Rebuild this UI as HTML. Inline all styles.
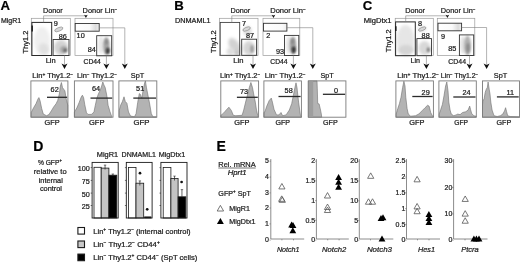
<!DOCTYPE html><html><head><meta charset="utf-8"><style>html,body{margin:0;padding:0;background:#fff;width:520px;height:262px;overflow:hidden}svg{display:block;will-change:transform}text{font-family:"Liberation Sans", sans-serif;stroke:#1a1a1a;stroke-width:0.22px;paint-order:stroke}</style></head><body>
<svg width="520" height="262" viewBox="0 0 520 262">
<defs>
<linearGradient id="gg" x1="0" x2="1" y1="0" y2="0"><stop offset="0" stop-color="#fff"/><stop offset="0.6" stop-color="#fafafa"/><stop offset="0.85" stop-color="#dcdcdc"/><stop offset="1" stop-color="#eee"/></linearGradient>
<linearGradient id="gg2" x1="0" x2="1" y1="0" y2="0"><stop offset="0" stop-color="#fff"/><stop offset="0.8" stop-color="#fafafa"/><stop offset="1" stop-color="#ececec"/></linearGradient>
<filter id="bl" x="-50%" y="-50%" width="200%" height="200%"><feGaussianBlur stdDeviation="1.6"/></filter>
<filter id="bl2" x="-50%" y="-50%" width="200%" height="200%"><feGaussianBlur stdDeviation="0.8"/></filter>
<filter id="bl1" x="-50%" y="-50%" width="200%" height="200%"><feGaussianBlur stdDeviation="1.1"/></filter>
</defs>
<rect width="520" height="262" fill="#fff"/>
<text x="0.6" y="10.4" font-size="13.2" text-anchor="start" font-weight="bold" font-style="normal" fill="#000" >A</text>
<text x="1.0" y="23.2" font-size="7" text-anchor="start" font-weight="normal" font-style="normal" fill="#1a1a1a" textLength="20.20" lengthAdjust="spacingAndGlyphs">MigR1</text>
<ellipse cx="42" cy="41" rx="8" ry="14" fill="#efefef" opacity="1" transform="rotate(0 42 41)" filter="url(#bl)"/>
<ellipse cx="44" cy="49" rx="5" ry="6" fill="#e0e0e0" opacity="1" transform="rotate(-30 44 49)" filter="url(#bl)"/>
<ellipse cx="61" cy="47.5" rx="7" ry="7.5" fill="#d2d2d2" opacity="1" transform="rotate(0 61 47.5)" filter="url(#bl)"/>
<ellipse cx="63.5" cy="49.5" rx="3.5" ry="3.5" fill="#a8a8a8" opacity="1" transform="rotate(0 63.5 49.5)" filter="url(#bl1)"/>
<ellipse cx="65.2" cy="50.3" rx="1.6" ry="1.8" fill="#555" opacity="1" transform="rotate(0 65.2 50.3)" filter="url(#bl2)"/>
<rect x="31.30" y="18.30" width="39.00" height="37.30" stroke="#9a9a9a" stroke-width="0.7" fill="none" />
<rect x="31.90" y="22.40" width="19.80" height="33.10" stroke="#2a2a2a" stroke-width="1.0" fill="none" />
<line x1="32.20" y1="25.50" x2="32.20" y2="31.50" stroke="#111" stroke-width="1.3"/>
<rect x="53.10" y="39.50" width="15.90" height="16.00" stroke="#333" stroke-width="0.9" fill="none" />
<ellipse cx="58.8" cy="29.4" rx="4.4" ry="1.8" transform="rotate(-22 58.8 29.4)" fill="#d8d8d8" stroke="#8a8a8a" stroke-width="0.6"/>
<text x="53.7" y="26.4" font-size="7.3" text-anchor="start" font-weight="normal" font-style="normal" fill="#1a1a1a" >9</text>
<text x="58.7" y="39.2" font-size="7.3" text-anchor="start" font-weight="normal" font-style="normal" fill="#1a1a1a" >86</text>
<text x="-11.4" y="0" font-size="7.3" fill="#1a1a1a" textLength="22.8" lengthAdjust="spacingAndGlyphs" transform="translate(27.9,42.1) rotate(-90)">Thy1.2</text>
<text x="45.7" y="63.4" font-size="7.2" text-anchor="start" font-weight="normal" font-style="normal" fill="#1a1a1a" textLength="10.00" lengthAdjust="spacingAndGlyphs">Lin</text>
<text x="43.0" y="13.4" font-size="7.2" text-anchor="start" font-weight="normal" font-style="normal" fill="#1a1a1a" textLength="19.70" lengthAdjust="spacingAndGlyphs">Donor</text>
<line x1="43.60" y1="15.80" x2="43.60" y2="22.40" stroke="#808080" stroke-width="0.6"/>
<line x1="43.60" y1="15.80" x2="85.90" y2="15.80" stroke="#808080" stroke-width="0.6"/>
<polygon points="84.10,14.80 85.90,15.60 87.70,14.80 85.90,18.00" fill="#111" stroke="none" stroke-width="0.8" />
<text x="82.6" y="13.4" font-size="7.2" text-anchor="start" font-weight="normal" font-style="normal" fill="#1a1a1a" textLength="34.80" lengthAdjust="spacingAndGlyphs">Donor Lin<tspan font-size="4.6" dy="-2.8">−</tspan></text>
<ellipse cx="101" cy="45" rx="3" ry="9" fill="#e8e8e8" opacity="1" transform="rotate(0 101 45)" filter="url(#bl1)"/>
<ellipse cx="106.3" cy="46" rx="3.3" ry="9" fill="#a8a8a8" opacity="1" transform="rotate(0 106.3 46)" filter="url(#bl1)"/>
<ellipse cx="107.8" cy="50.8" rx="2.0" ry="3.4" fill="#3a3a3a" opacity="1" transform="rotate(0 107.8 50.8)" filter="url(#bl2)"/>
<ellipse cx="106.5" cy="42" rx="1.5" ry="3" fill="#8a8a8a" opacity="1" transform="rotate(0 106.5 42)" filter="url(#bl2)"/>
<rect x="75.00" y="18.30" width="38.00" height="37.30" stroke="#9a9a9a" stroke-width="0.7" fill="none" />
<rect x="75.20" y="23.50" width="24.00" height="7.70" stroke="#333" stroke-width="0.9" fill="url(#gg)" />
<rect x="96.70" y="35.70" width="15.00" height="20.10" stroke="#333" stroke-width="0.9" fill="none" />
<text x="76.6" y="38.4" font-size="7.3" text-anchor="start" font-weight="normal" font-style="normal" fill="#1a1a1a" >10</text>
<text x="87.7" y="52.4" font-size="7.3" text-anchor="start" font-weight="normal" font-style="normal" fill="#1a1a1a" >84</text>
<text x="83.5" y="63.5" font-size="7.2" text-anchor="start" font-weight="normal" font-style="normal" fill="#1a1a1a" textLength="17.40" lengthAdjust="spacingAndGlyphs">CD44</text>
<line x1="64.50" y1="55.50" x2="64.50" y2="65.00" stroke="#808080" stroke-width="0.6"/>
<polygon points="61.50,63.60 64.50,65.10 67.50,63.60 64.50,69.00" fill="#111" stroke="none" stroke-width="0.8" />
<line x1="106.40" y1="55.80" x2="106.40" y2="65.00" stroke="#808080" stroke-width="0.6"/>
<polygon points="103.40,63.60 106.40,65.10 109.40,63.60 106.40,69.00" fill="#111" stroke="none" stroke-width="0.8" />
<line x1="99.20" y1="27.85" x2="124.80" y2="27.85" stroke="#808080" stroke-width="0.6"/>
<line x1="124.80" y1="27.85" x2="124.80" y2="65.00" stroke="#808080" stroke-width="0.6"/>
<polygon points="121.80,63.60 124.80,65.10 127.80,63.60 124.80,69.00" fill="#111" stroke="none" stroke-width="0.8" />
<text x="174.3" y="10.4" font-size="13.2" text-anchor="start" font-weight="bold" font-style="normal" fill="#000" >B</text>
<text x="174.9" y="23.2" font-size="7" text-anchor="start" font-weight="normal" font-style="normal" fill="#1a1a1a" textLength="35.70" lengthAdjust="spacingAndGlyphs">DNMAML1</text>
<ellipse cx="234.5" cy="46" rx="5" ry="9" fill="#d2d2d2" opacity="1" transform="rotate(-30 234.5 46)" filter="url(#bl)"/>
<ellipse cx="230.5" cy="51.5" rx="4" ry="3.5" fill="#dcdcdc" opacity="1" transform="rotate(0 230.5 51.5)" filter="url(#bl)"/>
<ellipse cx="237" cy="52.5" rx="2.5" ry="2.5" fill="#c8c8c8" opacity="1" transform="rotate(0 237 52.5)" filter="url(#bl1)"/>
<ellipse cx="249" cy="48" rx="6" ry="7" fill="#d4d4d4" opacity="1" transform="rotate(0 249 48)" filter="url(#bl)"/>
<ellipse cx="252" cy="49" rx="1.6" ry="4" fill="#999" opacity="1" transform="rotate(0 252 49)" filter="url(#bl1)"/>
<ellipse cx="247.5" cy="31" rx="4" ry="5" fill="#dcdcdc" opacity="1" transform="rotate(0 247.5 31)" filter="url(#bl)"/>
<rect x="219.60" y="18.30" width="38.40" height="37.30" stroke="#9a9a9a" stroke-width="0.7" fill="none" />
<rect x="220.20" y="22.40" width="19.50" height="32.90" stroke="#3a3a3a" stroke-width="0.85" fill="none" />
<rect x="241.70" y="39.20" width="14.90" height="16.10" stroke="#333" stroke-width="0.9" fill="none" />
<ellipse cx="246.6" cy="29.0" rx="4.0" ry="1.7" transform="rotate(-22 246.6 29.0)" fill="#d8d8d8" stroke="#8a8a8a" stroke-width="0.6"/>
<text x="242.0" y="26.4" font-size="7.3" text-anchor="start" font-weight="normal" font-style="normal" fill="#1a1a1a" >7</text>
<text x="246.0" y="38.4" font-size="7.3" text-anchor="start" font-weight="normal" font-style="normal" fill="#1a1a1a" >87</text>
<text x="-11.4" y="0" font-size="7.3" fill="#1a1a1a" textLength="22.8" lengthAdjust="spacingAndGlyphs" transform="translate(215.6,41.7) rotate(-90)">Thy1.2</text>
<text x="233.2" y="63.4" font-size="7.2" text-anchor="start" font-weight="normal" font-style="normal" fill="#1a1a1a" textLength="10.20" lengthAdjust="spacingAndGlyphs">Lin</text>
<text x="230.5" y="13.4" font-size="7.2" text-anchor="start" font-weight="normal" font-style="normal" fill="#1a1a1a" textLength="19.70" lengthAdjust="spacingAndGlyphs">Donor</text>
<line x1="231.80" y1="15.80" x2="231.80" y2="22.40" stroke="#808080" stroke-width="0.6"/>
<line x1="231.80" y1="15.80" x2="273.50" y2="15.80" stroke="#808080" stroke-width="0.6"/>
<polygon points="271.70,14.80 273.50,15.60 275.30,14.80 273.50,18.00" fill="#111" stroke="none" stroke-width="0.8" />
<text x="270.2" y="13.4" font-size="7.2" text-anchor="start" font-weight="normal" font-style="normal" fill="#1a1a1a" textLength="35.60" lengthAdjust="spacingAndGlyphs">Donor Lin<tspan font-size="4.6" dy="-2.8">−</tspan></text>
<ellipse cx="289" cy="45" rx="3" ry="9" fill="#e4e4e4" opacity="1" transform="rotate(0 289 45)" filter="url(#bl1)"/>
<ellipse cx="293" cy="45.5" rx="3.3" ry="9" fill="#a0a0a0" opacity="1" transform="rotate(0 293 45.5)" filter="url(#bl1)"/>
<ellipse cx="293.7" cy="49.8" rx="2.0" ry="3.4" fill="#333" opacity="1" transform="rotate(0 293.7 49.8)" filter="url(#bl2)"/>
<ellipse cx="292.5" cy="41.5" rx="1.5" ry="3" fill="#888" opacity="1" transform="rotate(0 292.5 41.5)" filter="url(#bl2)"/>
<rect x="263.00" y="18.30" width="36.80" height="37.30" stroke="#9a9a9a" stroke-width="0.7" fill="none" />
<rect x="263.50" y="23.30" width="23.40" height="7.80" stroke="#333" stroke-width="0.9" fill="url(#gg2)" />
<rect x="284.50" y="35.40" width="14.30" height="20.10" stroke="#333" stroke-width="0.9" fill="none" />
<text x="266.2" y="38.4" font-size="7.3" text-anchor="start" font-weight="normal" font-style="normal" fill="#1a1a1a" >2</text>
<text x="276.0" y="54.0" font-size="7.3" text-anchor="start" font-weight="normal" font-style="normal" fill="#1a1a1a" >93</text>
<text x="270.3" y="63.5" font-size="7.2" text-anchor="start" font-weight="normal" font-style="normal" fill="#1a1a1a" textLength="17.30" lengthAdjust="spacingAndGlyphs">CD44</text>
<line x1="253.00" y1="55.30" x2="253.00" y2="65.00" stroke="#808080" stroke-width="0.6"/>
<polygon points="250.00,63.60 253.00,65.10 256.00,63.60 253.00,69.00" fill="#111" stroke="none" stroke-width="0.8" />
<line x1="293.40" y1="55.50" x2="293.40" y2="65.00" stroke="#808080" stroke-width="0.6"/>
<polygon points="290.40,63.60 293.40,65.10 296.40,63.60 293.40,69.00" fill="#111" stroke="none" stroke-width="0.8" />
<line x1="286.90" y1="27.70" x2="312.80" y2="27.70" stroke="#808080" stroke-width="0.6"/>
<line x1="312.80" y1="27.70" x2="312.80" y2="65.00" stroke="#808080" stroke-width="0.6"/>
<polygon points="309.80,63.60 312.80,65.10 315.80,63.60 312.80,69.00" fill="#111" stroke="none" stroke-width="0.8" />
<text x="362.8" y="10.4" font-size="13.2" text-anchor="start" font-weight="bold" font-style="normal" fill="#000" >C</text>
<text x="363.8" y="23.2" font-size="7" text-anchor="start" font-weight="normal" font-style="normal" fill="#1a1a1a" textLength="27.80" lengthAdjust="spacingAndGlyphs">MigDtx1</text>
<ellipse cx="405.5" cy="40" rx="9" ry="15" fill="#e6e6e6" opacity="1" transform="rotate(0 405.5 40)" filter="url(#bl)"/>
<ellipse cx="406" cy="50" rx="8" ry="5" fill="#d4d4d4" opacity="1" transform="rotate(0 406 50)" filter="url(#bl)"/>
<ellipse cx="424.5" cy="48" rx="6" ry="7" fill="#d8d8d8" opacity="1" transform="rotate(0 424.5 48)" filter="url(#bl)"/>
<ellipse cx="428.3" cy="49.8" rx="1.5" ry="2.6" fill="#777" opacity="1" transform="rotate(0 428.3 49.8)" filter="url(#bl2)"/>
<ellipse cx="422" cy="29" rx="4" ry="3" fill="#e4e4e4" opacity="1" transform="rotate(0 422 29)" filter="url(#bl)"/>
<rect x="395.20" y="18.30" width="38.10" height="37.30" stroke="#9a9a9a" stroke-width="0.7" fill="none" />
<rect x="395.60" y="21.90" width="19.70" height="33.80" stroke="#2a2a2a" stroke-width="1.0" fill="none" />
<line x1="395.90" y1="26.30" x2="395.90" y2="30.90" stroke="#111" stroke-width="1.3"/>
<rect x="416.90" y="38.60" width="14.60" height="17.10" stroke="#333" stroke-width="0.9" fill="none" />
<ellipse cx="422.2" cy="29.0" rx="4.0" ry="1.6" transform="rotate(-22 422.2 29.0)" fill="#d8d8d8" stroke="#8a8a8a" stroke-width="0.6"/>
<text x="418.0" y="26.4" font-size="7.3" text-anchor="start" font-weight="normal" font-style="normal" fill="#1a1a1a" >8</text>
<text x="421.6" y="37.9" font-size="7.3" text-anchor="start" font-weight="normal" font-style="normal" fill="#1a1a1a" >88</text>
<text x="-11.4" y="0" font-size="7.3" fill="#1a1a1a" textLength="22.8" lengthAdjust="spacingAndGlyphs" transform="translate(390.8,40.8) rotate(-90)">Thy1.2</text>
<text x="410.5" y="63.4" font-size="7.2" text-anchor="start" font-weight="normal" font-style="normal" fill="#1a1a1a" textLength="9.50" lengthAdjust="spacingAndGlyphs">Lin</text>
<text x="405.2" y="13.4" font-size="7.2" text-anchor="start" font-weight="normal" font-style="normal" fill="#1a1a1a" textLength="19.80" lengthAdjust="spacingAndGlyphs">Donor</text>
<line x1="405.70" y1="15.80" x2="405.70" y2="21.90" stroke="#808080" stroke-width="0.6"/>
<line x1="405.70" y1="15.80" x2="447.40" y2="15.80" stroke="#808080" stroke-width="0.6"/>
<polygon points="445.60,14.80 447.40,15.60 449.20,14.80 447.40,18.00" fill="#111" stroke="none" stroke-width="0.8" />
<text x="440.8" y="13.4" font-size="7.2" text-anchor="start" font-weight="normal" font-style="normal" fill="#1a1a1a" textLength="34.70" lengthAdjust="spacingAndGlyphs">Donor Lin<tspan font-size="4.6" dy="-2.8">−</tspan></text>
<ellipse cx="463" cy="45" rx="3" ry="9" fill="#e4e4e4" opacity="1" transform="rotate(0 463 45)" filter="url(#bl1)"/>
<ellipse cx="467.5" cy="45.5" rx="3.6" ry="10" fill="#b2b2b2" opacity="1" transform="rotate(0 467.5 45.5)" filter="url(#bl1)"/>
<ellipse cx="468" cy="48" rx="1.6" ry="5" fill="#888" opacity="1" transform="rotate(0 468 48)" filter="url(#bl2)"/>
<rect x="437.30" y="18.30" width="37.50" height="37.30" stroke="#9a9a9a" stroke-width="0.7" fill="none" />
<rect x="438.00" y="23.20" width="23.60" height="7.60" stroke="#333" stroke-width="0.9" fill="url(#gg)" />
<rect x="459.40" y="34.90" width="14.30" height="20.60" stroke="#333" stroke-width="0.9" fill="none" />
<text x="441.0" y="39.4" font-size="7.3" text-anchor="start" font-weight="normal" font-style="normal" fill="#1a1a1a" >9</text>
<text x="448.3" y="51.4" font-size="7.3" text-anchor="start" font-weight="normal" font-style="normal" fill="#1a1a1a" >85</text>
<text x="448.3" y="63.5" font-size="7.2" text-anchor="start" font-weight="normal" font-style="normal" fill="#1a1a1a" textLength="17.70" lengthAdjust="spacingAndGlyphs">CD44</text>
<line x1="426.40" y1="55.70" x2="426.40" y2="65.00" stroke="#808080" stroke-width="0.6"/>
<polygon points="423.40,63.60 426.40,65.10 429.40,63.60 426.40,69.00" fill="#111" stroke="none" stroke-width="0.8" />
<line x1="469.50" y1="55.50" x2="469.50" y2="65.00" stroke="#808080" stroke-width="0.6"/>
<polygon points="466.50,63.60 469.50,65.10 472.50,63.60 469.50,69.00" fill="#111" stroke="none" stroke-width="0.8" />
<line x1="461.60" y1="27.50" x2="486.60" y2="27.50" stroke="#808080" stroke-width="0.6"/>
<line x1="486.60" y1="27.50" x2="486.60" y2="65.00" stroke="#808080" stroke-width="0.6"/>
<polygon points="483.60,63.60 486.60,65.10 489.60,63.60 486.60,69.00" fill="#111" stroke="none" stroke-width="0.8" />
<polygon points="31.20,117.20 31.20,112.50 33.60,107.70 36.00,103.70 38.00,98.90 38.90,97.60 40.00,100.50 41.70,108.50 43.30,114.10 46.50,115.70 48.90,114.60 51.30,110.90 53.70,106.90 56.10,103.70 57.70,100.50 59.30,94.10 60.40,86.00 61.40,82.50 62.50,87.60 63.70,89.20 64.90,90.80 66.20,98.90 67.80,105.30 67.80,117.20" fill="#b3b3b3" stroke="#6e6e6e" stroke-width="0.6" />
<rect x="30.90" y="80.90" width="37.00" height="36.30" stroke="#7a7a7a" stroke-width="0.9" fill="none" />
<line x1="47.00" y1="97.30" x2="67.10" y2="97.30" stroke="#2a2a2a" stroke-width="1.3"/>
<text x="50.6" y="92.4" font-size="7.3" text-anchor="start" font-weight="normal" font-style="normal" fill="#1a1a1a" >62</text>
<text x="32.3" y="78.4" font-size="7.2" text-anchor="start" font-weight="normal" font-style="normal" fill="#1a1a1a" textLength="40.90" lengthAdjust="spacingAndGlyphs">Lin<tspan font-size="4.6" dy="-2.8">+</tspan><tspan dy="2.8"> </tspan>Thy1.2<tspan font-size="4.6" dy="-2.8">−</tspan></text>
<text x="44.6" y="125.4" font-size="7.3" text-anchor="start" font-weight="normal" font-style="normal" fill="#1a1a1a" textLength="15.10" lengthAdjust="spacingAndGlyphs">GFP</text>
<polygon points="74.40,117.20 74.40,112.00 76.80,108.00 79.20,102.40 81.30,96.80 82.40,95.20 83.60,97.60 84.80,104.80 86.50,112.80 88.10,114.40 91.30,114.40 92.80,113.30 94.00,111.70 95.30,105.30 96.90,98.00 98.40,93.90 99.90,90.90 101.40,86.90 102.80,82.00 103.90,84.90 105.20,87.60 106.50,94.00 107.20,98.00 108.10,105.30 110.00,111.70 111.70,116.50 111.70,117.20" fill="#b3b3b3" stroke="#6e6e6e" stroke-width="0.6" />
<rect x="74.40" y="80.90" width="38.60" height="36.30" stroke="#7a7a7a" stroke-width="0.9" fill="none" />
<line x1="90.50" y1="98.10" x2="112.20" y2="98.10" stroke="#2a2a2a" stroke-width="1.3"/>
<text x="92.0" y="91.3" font-size="7.3" text-anchor="start" font-weight="normal" font-style="normal" fill="#1a1a1a" >64</text>
<text x="77.0" y="78.4" font-size="7.2" text-anchor="start" font-weight="normal" font-style="normal" fill="#1a1a1a" textLength="40.00" lengthAdjust="spacingAndGlyphs">Lin<tspan font-size="4.6" dy="-2.8">−</tspan><tspan dy="2.8"> </tspan>Thy1.2<tspan font-size="4.6" dy="-2.8">−</tspan></text>
<text x="89.0" y="125.4" font-size="7.3" text-anchor="start" font-weight="normal" font-style="normal" fill="#1a1a1a" textLength="15.50" lengthAdjust="spacingAndGlyphs">GFP</text>
<polygon points="119.20,117.20 119.20,110.40 120.80,104.80 122.40,101.60 124.00,96.80 125.30,101.60 126.90,103.20 128.50,112.00 130.50,116.00 134.50,116.80 136.10,113.60 137.70,102.40 139.30,93.60 140.40,94.40 141.70,98.40 143.00,91.10 144.60,83.10 145.40,80.90 146.50,87.90 148.10,96.00 149.70,104.00 151.30,113.60 152.90,116.80 156.40,116.80 156.40,117.20" fill="#b3b3b3" stroke="#6e6e6e" stroke-width="0.6" />
<rect x="118.90" y="80.90" width="37.90" height="36.30" stroke="#7a7a7a" stroke-width="0.9" fill="none" />
<line x1="133.30" y1="98.10" x2="156.00" y2="98.10" stroke="#2a2a2a" stroke-width="1.3"/>
<text x="136.1" y="90.9" font-size="7.3" text-anchor="start" font-weight="normal" font-style="normal" fill="#1a1a1a" >51</text>
<text x="130.8" y="78.4" font-size="7.2" text-anchor="start" font-weight="normal" font-style="normal" fill="#1a1a1a" textLength="13.40" lengthAdjust="spacingAndGlyphs">SpT</text>
<text x="133.5" y="125.4" font-size="7.3" text-anchor="start" font-weight="normal" font-style="normal" fill="#1a1a1a" textLength="16.00" lengthAdjust="spacingAndGlyphs">GFP</text>
<polygon points="220.80,117.20 220.80,115.40 223.80,112.90 226.30,109.90 228.90,107.20 231.30,110.40 233.30,115.30 235.80,115.70 242.10,115.30 243.70,110.10 245.60,102.10 247.70,94.10 249.30,87.60 250.90,82.50 252.50,87.60 253.70,94.10 255.30,102.10 256.50,110.10 257.80,115.70 257.80,117.20" fill="#b3b3b3" stroke="#6e6e6e" stroke-width="0.6" />
<rect x="220.80" y="80.90" width="37.80" height="36.30" stroke="#7a7a7a" stroke-width="0.9" fill="none" />
<line x1="236.90" y1="97.30" x2="257.80" y2="97.30" stroke="#2a2a2a" stroke-width="1.3"/>
<text x="240.0" y="93.8" font-size="7.3" text-anchor="start" font-weight="normal" font-style="normal" fill="#1a1a1a" >73</text>
<text x="220.0" y="78.4" font-size="7.2" text-anchor="start" font-weight="normal" font-style="normal" fill="#1a1a1a" textLength="40.20" lengthAdjust="spacingAndGlyphs">Lin<tspan font-size="4.6" dy="-2.8">+</tspan><tspan dy="2.8"> </tspan>Thy1.2<tspan font-size="4.6" dy="-2.8">−</tspan></text>
<text x="234.2" y="125.4" font-size="7.3" text-anchor="start" font-weight="normal" font-style="normal" fill="#1a1a1a" textLength="15.20" lengthAdjust="spacingAndGlyphs">GFP</text>
<polygon points="263.90,117.20 263.90,112.40 264.90,111.70 266.80,106.10 269.20,100.50 271.30,98.10 272.40,102.10 274.00,109.30 276.50,114.90 278.90,114.90 281.00,112.50 282.60,115.70 286.10,114.90 289.30,110.10 291.70,103.70 293.30,95.70 294.90,87.60 296.00,82.80 297.00,87.60 297.70,94.10 298.60,102.10 299.70,110.10 300.50,115.70 301.30,116.40 301.30,117.20" fill="#b3b3b3" stroke="#6e6e6e" stroke-width="0.6" />
<rect x="263.90" y="80.90" width="37.50" height="36.30" stroke="#7a7a7a" stroke-width="0.9" fill="none" />
<line x1="278.50" y1="96.50" x2="300.60" y2="96.50" stroke="#2a2a2a" stroke-width="1.3"/>
<text x="284.6" y="93.3" font-size="7.3" text-anchor="start" font-weight="normal" font-style="normal" fill="#1a1a1a" >58</text>
<text x="264.7" y="78.4" font-size="7.2" text-anchor="start" font-weight="normal" font-style="normal" fill="#1a1a1a" textLength="40.90" lengthAdjust="spacingAndGlyphs">Lin<tspan font-size="4.6" dy="-2.8">−</tspan><tspan dy="2.8"> </tspan>Thy1.2<tspan font-size="4.6" dy="-2.8">−</tspan></text>
<text x="275.4" y="125.4" font-size="7.3" text-anchor="start" font-weight="normal" font-style="normal" fill="#1a1a1a" textLength="14.60" lengthAdjust="spacingAndGlyphs">GFP</text>
<polygon points="308.30,117.20 308.30,80.90 317.00,80.90 317.30,88.90 317.70,103.50 319.10,103.90 320.30,108.90 321.30,113.90 321.70,117.20 321.70,117.20" fill="#b3b3b3" stroke="#6e6e6e" stroke-width="0.6" />
<rect x="308.30" y="80.90" width="37.60" height="36.30" stroke="#7a7a7a" stroke-width="0.9" fill="none" />
<line x1="322.90" y1="94.30" x2="345.10" y2="94.30" stroke="#2a2a2a" stroke-width="1.3"/>
<text x="333.9" y="93.4" font-size="7.3" text-anchor="start" font-weight="normal" font-style="normal" fill="#1a1a1a" >0</text>
<text x="320.4" y="78.4" font-size="7.2" text-anchor="start" font-weight="normal" font-style="normal" fill="#1a1a1a" textLength="13.30" lengthAdjust="spacingAndGlyphs">SpT</text>
<text x="323.0" y="125.4" font-size="7.3" text-anchor="start" font-weight="normal" font-style="normal" fill="#1a1a1a" textLength="14.70" lengthAdjust="spacingAndGlyphs">GFP</text>
<polygon points="396.20,117.20 396.20,114.10 397.80,108.50 399.40,103.70 401.00,97.30 402.60,87.60 403.90,81.20 405.00,86.00 405.80,97.30 407.10,108.50 408.30,114.10 410.70,116.20 415.50,115.70 418.70,114.10 421.90,110.90 425.10,107.70 427.50,105.30 429.10,106.10 430.70,112.50 432.30,115.70 433.40,116.40 433.40,117.20" fill="#b3b3b3" stroke="#6e6e6e" stroke-width="0.6" />
<rect x="395.90" y="80.90" width="37.50" height="36.30" stroke="#7a7a7a" stroke-width="0.9" fill="none" />
<line x1="412.30" y1="96.50" x2="432.60" y2="96.50" stroke="#2a2a2a" stroke-width="1.3"/>
<text x="421.6" y="94.9" font-size="7.3" text-anchor="start" font-weight="normal" font-style="normal" fill="#1a1a1a" >29</text>
<text x="397.2" y="78.4" font-size="7.2" text-anchor="start" font-weight="normal" font-style="normal" fill="#1a1a1a" textLength="41.80" lengthAdjust="spacingAndGlyphs">Lin<tspan font-size="4.6" dy="-2.8">+</tspan><tspan dy="2.8"> </tspan>Thy1.2<tspan font-size="4.6" dy="-2.8">−</tspan></text>
<text x="409.2" y="125.4" font-size="7.3" text-anchor="start" font-weight="normal" font-style="normal" fill="#1a1a1a" textLength="15.20" lengthAdjust="spacingAndGlyphs">GFP</text>
<polygon points="439.20,117.20 439.20,114.10 440.80,109.30 442.40,104.50 444.00,95.70 445.60,86.00 446.80,82.00 448.00,90.80 448.80,102.10 450.10,110.10 451.30,114.10 453.70,115.70 456.10,114.90 457.70,114.10 460.10,114.60 462.60,112.50 465.80,111.70 468.10,110.10 469.70,106.10 470.50,109.30 471.60,113.30 473.70,115.70 476.10,116.20 476.10,117.20" fill="#b3b3b3" stroke="#6e6e6e" stroke-width="0.6" />
<rect x="438.90" y="80.90" width="37.40" height="36.30" stroke="#7a7a7a" stroke-width="0.9" fill="none" />
<line x1="453.30" y1="97.00" x2="475.50" y2="97.00" stroke="#2a2a2a" stroke-width="1.3"/>
<text x="462.5" y="94.9" font-size="7.3" text-anchor="start" font-weight="normal" font-style="normal" fill="#1a1a1a" >24</text>
<text x="440.8" y="78.4" font-size="7.2" text-anchor="start" font-weight="normal" font-style="normal" fill="#1a1a1a" textLength="37.40" lengthAdjust="spacingAndGlyphs">Lin<tspan font-size="4.6" dy="-2.8">−</tspan><tspan dy="2.8"> </tspan>Thy1.2<tspan font-size="4.6" dy="-2.8">−</tspan></text>
<text x="454.2" y="125.4" font-size="7.3" text-anchor="start" font-weight="normal" font-style="normal" fill="#1a1a1a" textLength="13.80" lengthAdjust="spacingAndGlyphs">GFP</text>
<rect x="308.80" y="81.30" width="4.40" height="35.50" stroke="none" stroke-width="0" fill="#9e9e9e" />
<polygon points="482.50,117.20 482.50,104.90 482.80,101.20 484.10,98.80 485.20,92.40 486.30,89.20 487.30,87.60 488.10,82.00 489.20,89.20 490.00,94.00 490.80,102.00 492.10,110.10 494.00,115.70 497.20,116.50 500.40,115.70 502.80,114.10 504.50,110.90 505.60,107.70 506.60,111.70 507.70,115.70 510.10,116.50 519.50,116.80 519.50,117.20" fill="#b3b3b3" stroke="#6e6e6e" stroke-width="0.6" />
<rect x="482.50" y="80.90" width="37.00" height="36.30" stroke="#7a7a7a" stroke-width="0.9" fill="none" />
<line x1="496.90" y1="96.90" x2="518.70" y2="96.90" stroke="#2a2a2a" stroke-width="1.3"/>
<text x="506.6" y="94.8" font-size="7.3" text-anchor="start" font-weight="normal" font-style="normal" fill="#1a1a1a" >11</text>
<text x="493.8" y="78.4" font-size="7.2" text-anchor="start" font-weight="normal" font-style="normal" fill="#1a1a1a" textLength="13.40" lengthAdjust="spacingAndGlyphs">SpT</text>
<text x="496.5" y="125.4" font-size="7.3" text-anchor="start" font-weight="normal" font-style="normal" fill="#1a1a1a" textLength="14.70" lengthAdjust="spacingAndGlyphs">GFP</text>
<text x="33.3" y="150.8" font-size="14" text-anchor="start" font-weight="bold" font-style="normal" fill="#000" >D</text>
<text x="37.9" y="164.7" font-size="7.4" text-anchor="start" font-weight="normal" font-style="normal" fill="#1a1a1a" textLength="23.90" lengthAdjust="spacingAndGlyphs">% GFP<tspan font-size="4.6" dy="-2.8">+</tspan></text>
<text x="33.8" y="173.8" font-size="7.4" text-anchor="start" font-weight="normal" font-style="normal" fill="#1a1a1a" textLength="32.80" lengthAdjust="spacingAndGlyphs">relative to</text>
<text x="38.7" y="183.0" font-size="7.4" text-anchor="start" font-weight="normal" font-style="normal" fill="#1a1a1a" textLength="24.10" lengthAdjust="spacingAndGlyphs">internal</text>
<text x="39.9" y="191.4" font-size="7.4" text-anchor="start" font-weight="normal" font-style="normal" fill="#1a1a1a" textLength="22.10" lengthAdjust="spacingAndGlyphs">control</text>
<text x="96.8" y="157.0" font-size="7.2" text-anchor="start" font-weight="normal" font-style="normal" fill="#1a1a1a" textLength="21.30" lengthAdjust="spacingAndGlyphs">MigR1</text>
<text x="121.6" y="157.0" font-size="7.2" text-anchor="start" font-weight="normal" font-style="normal" fill="#1a1a1a" textLength="34.40" lengthAdjust="spacingAndGlyphs">DNMAML1</text>
<text x="158.7" y="157.0" font-size="7.2" text-anchor="start" font-weight="normal" font-style="normal" fill="#1a1a1a" textLength="26.50" lengthAdjust="spacingAndGlyphs">MigDtx1</text>
<text x="89.7" y="171.3" font-size="7.2" text-anchor="end" font-weight="normal" font-style="normal" fill="#1a1a1a" >100</text>
<text x="89.7" y="184.0" font-size="7.2" text-anchor="end" font-weight="normal" font-style="normal" fill="#1a1a1a" >75</text>
<text x="89.7" y="196.6" font-size="7.2" text-anchor="end" font-weight="normal" font-style="normal" fill="#1a1a1a" >50</text>
<text x="89.7" y="209.0" font-size="7.2" text-anchor="end" font-weight="normal" font-style="normal" fill="#1a1a1a" >25</text>
<rect x="94.00" y="167.30" width="7.20" height="50.70" stroke="#1a1a1a" stroke-width="0.8" fill="#fff" />
<rect x="101.20" y="168.10" width="7.70" height="49.90" stroke="#1a1a1a" stroke-width="0.8" fill="#c4c4c4" />
<line x1="105.05" y1="165.10" x2="105.05" y2="169.50" stroke="#222" stroke-width="0.7"/>
<line x1="103.85" y1="165.10" x2="106.25" y2="165.10" stroke="#222" stroke-width="0.6"/>
<rect x="108.90" y="175.20" width="7.90" height="42.80" stroke="#1a1a1a" stroke-width="0.8" fill="#000" />
<line x1="112.85" y1="174.00" x2="112.85" y2="175.20" stroke="#222" stroke-width="0.7"/>
<line x1="111.65" y1="174.00" x2="114.05" y2="174.00" stroke="#222" stroke-width="0.6"/>
<rect x="92.10" y="162.40" width="26.10" height="55.60" stroke="#1a1a1a" stroke-width="0.9" fill="none" />
<line x1="90.70" y1="167.60" x2="92.10" y2="167.60" stroke="#1a1a1a" stroke-width="0.6"/>
<line x1="90.70" y1="180.40" x2="92.10" y2="180.40" stroke="#1a1a1a" stroke-width="0.6"/>
<line x1="90.70" y1="193.10" x2="92.10" y2="193.10" stroke="#1a1a1a" stroke-width="0.6"/>
<line x1="90.70" y1="205.50" x2="92.10" y2="205.50" stroke="#1a1a1a" stroke-width="0.6"/>
<rect x="128.40" y="167.40" width="7.60" height="50.60" stroke="#1a1a1a" stroke-width="0.8" fill="#fff" />
<rect x="136.00" y="183.20" width="7.70" height="34.80" stroke="#1a1a1a" stroke-width="0.8" fill="#c4c4c4" />
<line x1="139.85" y1="180.90" x2="139.85" y2="185.50" stroke="#222" stroke-width="0.7"/>
<line x1="138.65" y1="180.90" x2="141.05" y2="180.90" stroke="#222" stroke-width="0.6"/>
<rect x="144.60" y="216.90" width="6.40" height="1.10" stroke="#1a1a1a" stroke-width="0.8" fill="#000" />
<rect x="126.30" y="162.40" width="25.80" height="55.60" stroke="#1a1a1a" stroke-width="0.9" fill="none" />
<line x1="124.90" y1="167.60" x2="126.30" y2="167.60" stroke="#1a1a1a" stroke-width="0.6"/>
<line x1="124.90" y1="180.40" x2="126.30" y2="180.40" stroke="#1a1a1a" stroke-width="0.6"/>
<line x1="124.90" y1="193.10" x2="126.30" y2="193.10" stroke="#1a1a1a" stroke-width="0.6"/>
<line x1="124.90" y1="205.50" x2="126.30" y2="205.50" stroke="#1a1a1a" stroke-width="0.6"/>
<rect x="163.20" y="167.40" width="7.70" height="50.60" stroke="#1a1a1a" stroke-width="0.8" fill="#fff" />
<rect x="170.90" y="178.40" width="7.20" height="39.60" stroke="#1a1a1a" stroke-width="0.8" fill="#c4c4c4" />
<line x1="174.50" y1="176.10" x2="174.50" y2="180.50" stroke="#222" stroke-width="0.7"/>
<line x1="173.30" y1="176.10" x2="175.70" y2="176.10" stroke="#222" stroke-width="0.6"/>
<rect x="178.10" y="196.80" width="7.70" height="21.20" stroke="#1a1a1a" stroke-width="0.8" fill="#000" />
<line x1="181.95" y1="189.60" x2="181.95" y2="196.80" stroke="#222" stroke-width="0.7"/>
<line x1="180.75" y1="189.60" x2="183.15" y2="189.60" stroke="#222" stroke-width="0.6"/>
<rect x="160.90" y="162.40" width="26.10" height="55.60" stroke="#1a1a1a" stroke-width="0.9" fill="none" />
<line x1="159.50" y1="167.60" x2="160.90" y2="167.60" stroke="#1a1a1a" stroke-width="0.6"/>
<line x1="159.50" y1="180.40" x2="160.90" y2="180.40" stroke="#1a1a1a" stroke-width="0.6"/>
<line x1="159.50" y1="193.10" x2="160.90" y2="193.10" stroke="#1a1a1a" stroke-width="0.6"/>
<line x1="159.50" y1="205.50" x2="160.90" y2="205.50" stroke="#1a1a1a" stroke-width="0.6"/>
<circle cx="140.0" cy="173.2" r="1.35" fill="#111"/>
<circle cx="147.2" cy="209.3" r="1.35" fill="#111"/>
<circle cx="181.6" cy="182.0" r="1.35" fill="#111"/>
<rect x="77.90" y="227.50" width="6.60" height="6.60" stroke="#1a1a1a" stroke-width="1.1" fill="#fff" />
<text x="93.3" y="233.5" font-size="7.2" text-anchor="start" font-weight="normal" font-style="normal" fill="#1a1a1a" textLength="97.30" lengthAdjust="spacingAndGlyphs">Lin<tspan font-size="4.6" dy="-2.8">+</tspan><tspan dy="2.8"> </tspan>Thy1.2<tspan font-size="4.6" dy="-2.8">−</tspan><tspan dy="2.8"> </tspan>(internal control)</text>
<rect x="77.90" y="241.00" width="6.60" height="6.60" stroke="#1a1a1a" stroke-width="1.1" fill="#c8c8c8" />
<text x="93.3" y="247.0" font-size="7.2" text-anchor="start" font-weight="normal" font-style="normal" fill="#1a1a1a" textLength="66.50" lengthAdjust="spacingAndGlyphs">Lin<tspan font-size="4.6" dy="-2.8">−</tspan><tspan dy="2.8"> </tspan>Thy1.2<tspan font-size="4.6" dy="-2.8">−</tspan><tspan dy="2.8"> </tspan>CD44<tspan font-size="4.6" dy="-2.8">+</tspan></text>
<rect x="77.90" y="254.10" width="6.60" height="6.60" stroke="#1a1a1a" stroke-width="1.1" fill="#000" />
<text x="93.3" y="260.1" font-size="7.2" text-anchor="start" font-weight="normal" font-style="normal" fill="#1a1a1a" textLength="104.00" lengthAdjust="spacingAndGlyphs">Lin<tspan font-size="4.6" dy="-2.8">−</tspan><tspan dy="2.8"> </tspan>Thy1.2<tspan font-size="4.6" dy="-2.8">+</tspan><tspan dy="2.8"> </tspan>CD44<tspan font-size="4.6" dy="-2.8">−</tspan><tspan dy="2.8"> </tspan>(SpT cells)</text>
<text x="216.4" y="150.9" font-size="14" text-anchor="start" font-weight="bold" font-style="normal" fill="#000" >E</text>
<text x="218.3" y="166.7" font-size="7.4" text-anchor="start" font-weight="normal" font-style="normal" fill="#1a1a1a" textLength="37.40" lengthAdjust="spacingAndGlyphs">Rel. mRNA</text>
<line x1="218.30" y1="168.00" x2="255.70" y2="168.00" stroke="#1a1a1a" stroke-width="0.6"/>
<text x="227.7" y="174.7" font-size="7.4" text-anchor="start" font-weight="normal" font-style="italic" fill="#1a1a1a" textLength="18.90" lengthAdjust="spacingAndGlyphs">Hprt1</text>
<text x="218.3" y="196.2" font-size="7.4" text-anchor="start" font-weight="normal" font-style="normal" fill="#1a1a1a" textLength="32.60" lengthAdjust="spacingAndGlyphs">GFP<tspan font-size="4.6" dy="-2.8">+</tspan><tspan dy="2.8"> </tspan>SpT</text>
<polygon points="220.40,205.38 217.20,211.02 223.60,211.02" fill="none" stroke="#555" stroke-width="0.8" stroke-linejoin="miter"/>
<text x="229.3" y="210.6" font-size="7.4" text-anchor="start" font-weight="normal" font-style="normal" fill="#1a1a1a" textLength="20.70" lengthAdjust="spacingAndGlyphs">MigR1</text>
<polygon points="220.40,217.96 216.95,224.04 223.85,224.04" fill="#000" stroke="none" stroke-width="0.8" />
<text x="229.3" y="223.6" font-size="7.4" text-anchor="start" font-weight="normal" font-style="normal" fill="#1a1a1a" textLength="26.20" lengthAdjust="spacingAndGlyphs">MigDtx1</text>
<line x1="270.80" y1="159.10" x2="270.80" y2="239.00" stroke="#666" stroke-width="0.75"/>
<line x1="270.80" y1="239.00" x2="304.20" y2="239.00" stroke="#666" stroke-width="0.75"/>
<line x1="269.50" y1="161.20" x2="270.80" y2="161.20" stroke="#666" stroke-width="0.6"/>
<text x="268.8" y="163.4" font-size="7.0" text-anchor="end" font-weight="normal" font-style="normal" fill="#222" >5</text>
<line x1="269.50" y1="177.10" x2="270.80" y2="177.10" stroke="#666" stroke-width="0.6"/>
<text x="268.8" y="179.29999999999998" font-size="7.0" text-anchor="end" font-weight="normal" font-style="normal" fill="#222" >4</text>
<line x1="269.50" y1="192.90" x2="270.80" y2="192.90" stroke="#666" stroke-width="0.6"/>
<text x="268.8" y="195.1" font-size="7.0" text-anchor="end" font-weight="normal" font-style="normal" fill="#222" >3</text>
<line x1="269.50" y1="208.00" x2="270.80" y2="208.00" stroke="#666" stroke-width="0.6"/>
<text x="268.8" y="210.2" font-size="7.0" text-anchor="end" font-weight="normal" font-style="normal" fill="#222" >2</text>
<line x1="269.50" y1="223.90" x2="270.80" y2="223.90" stroke="#666" stroke-width="0.6"/>
<text x="268.8" y="226.1" font-size="7.0" text-anchor="end" font-weight="normal" font-style="normal" fill="#222" >1</text>
<line x1="269.50" y1="240.10" x2="270.80" y2="240.10" stroke="#666" stroke-width="0.6"/>
<text x="268.8" y="242.29999999999998" font-size="7.0" text-anchor="end" font-weight="normal" font-style="normal" fill="#222" >0</text>
<line x1="281.90" y1="239.00" x2="281.90" y2="240.40" stroke="#666" stroke-width="0.6"/>
<line x1="293.50" y1="239.00" x2="293.50" y2="240.40" stroke="#666" stroke-width="0.6"/>
<text x="276.9" y="252.1" font-size="7.9" text-anchor="start" font-weight="normal" font-style="italic" fill="#1a1a1a" textLength="22.70" lengthAdjust="spacingAndGlyphs">Notch1</text>
<line x1="316.40" y1="159.10" x2="316.40" y2="239.00" stroke="#666" stroke-width="0.75"/>
<line x1="316.40" y1="239.00" x2="348.80" y2="239.00" stroke="#666" stroke-width="0.75"/>
<line x1="315.10" y1="161.20" x2="316.40" y2="161.20" stroke="#666" stroke-width="0.6"/>
<text x="315.2" y="163.4" font-size="7.0" text-anchor="end" font-weight="normal" font-style="normal" fill="#222" >2</text>
<line x1="315.10" y1="180.90" x2="316.40" y2="180.90" stroke="#666" stroke-width="0.6"/>
<text x="315.2" y="183.1" font-size="7.0" text-anchor="end" font-weight="normal" font-style="normal" fill="#222" >1.5</text>
<line x1="315.10" y1="200.60" x2="316.40" y2="200.60" stroke="#666" stroke-width="0.6"/>
<text x="315.2" y="202.79999999999998" font-size="7.0" text-anchor="end" font-weight="normal" font-style="normal" fill="#222" >1</text>
<line x1="315.10" y1="220.30" x2="316.40" y2="220.30" stroke="#666" stroke-width="0.6"/>
<text x="315.2" y="222.5" font-size="7.0" text-anchor="end" font-weight="normal" font-style="normal" fill="#222" >0.5</text>
<line x1="315.10" y1="240.10" x2="316.40" y2="240.10" stroke="#666" stroke-width="0.6"/>
<text x="315.2" y="242.29999999999998" font-size="7.0" text-anchor="end" font-weight="normal" font-style="normal" fill="#222" >0</text>
<line x1="327.70" y1="239.00" x2="327.70" y2="240.40" stroke="#666" stroke-width="0.6"/>
<line x1="339.10" y1="239.00" x2="339.10" y2="240.40" stroke="#666" stroke-width="0.6"/>
<text x="322.0" y="252.1" font-size="7.9" text-anchor="start" font-weight="normal" font-style="italic" fill="#1a1a1a" textLength="24.20" lengthAdjust="spacingAndGlyphs">Notch2</text>
<line x1="359.30" y1="159.10" x2="359.30" y2="239.00" stroke="#666" stroke-width="0.75"/>
<line x1="359.30" y1="239.00" x2="393.30" y2="239.00" stroke="#666" stroke-width="0.75"/>
<line x1="358.00" y1="161.20" x2="359.30" y2="161.20" stroke="#666" stroke-width="0.6"/>
<text x="358.1" y="163.4" font-size="7.0" text-anchor="end" font-weight="normal" font-style="normal" fill="#222" >20</text>
<line x1="358.00" y1="181.00" x2="359.30" y2="181.00" stroke="#666" stroke-width="0.6"/>
<text x="358.1" y="183.2" font-size="7.0" text-anchor="end" font-weight="normal" font-style="normal" fill="#222" >15</text>
<line x1="358.00" y1="200.80" x2="359.30" y2="200.80" stroke="#666" stroke-width="0.6"/>
<text x="358.1" y="203.0" font-size="7.0" text-anchor="end" font-weight="normal" font-style="normal" fill="#222" >10</text>
<line x1="358.00" y1="220.60" x2="359.30" y2="220.60" stroke="#666" stroke-width="0.6"/>
<text x="358.1" y="222.79999999999998" font-size="7.0" text-anchor="end" font-weight="normal" font-style="normal" fill="#222" >5</text>
<line x1="358.00" y1="240.20" x2="359.30" y2="240.20" stroke="#666" stroke-width="0.6"/>
<text x="358.1" y="242.4" font-size="7.0" text-anchor="end" font-weight="normal" font-style="normal" fill="#222" >0</text>
<line x1="370.50" y1="239.00" x2="370.50" y2="240.40" stroke="#666" stroke-width="0.6"/>
<line x1="381.80" y1="239.00" x2="381.80" y2="240.40" stroke="#666" stroke-width="0.6"/>
<text x="366.9" y="252.1" font-size="7.9" text-anchor="start" font-weight="normal" font-style="italic" fill="#1a1a1a" textLength="25.10" lengthAdjust="spacingAndGlyphs">Notch3</text>
<line x1="406.50" y1="159.10" x2="406.50" y2="239.00" stroke="#666" stroke-width="0.75"/>
<line x1="406.50" y1="239.00" x2="440.00" y2="239.00" stroke="#666" stroke-width="0.75"/>
<line x1="405.20" y1="161.20" x2="406.50" y2="161.20" stroke="#666" stroke-width="0.6"/>
<text x="405.3" y="163.4" font-size="7.0" text-anchor="end" font-weight="normal" font-style="normal" fill="#222" >2.5</text>
<line x1="405.20" y1="177.00" x2="406.50" y2="177.00" stroke="#666" stroke-width="0.6"/>
<text x="405.3" y="179.2" font-size="7.0" text-anchor="end" font-weight="normal" font-style="normal" fill="#222" >2</text>
<line x1="405.20" y1="192.80" x2="406.50" y2="192.80" stroke="#666" stroke-width="0.6"/>
<text x="405.3" y="195.0" font-size="7.0" text-anchor="end" font-weight="normal" font-style="normal" fill="#222" >1.5</text>
<line x1="405.20" y1="208.60" x2="406.50" y2="208.60" stroke="#666" stroke-width="0.6"/>
<text x="405.3" y="210.79999999999998" font-size="7.0" text-anchor="end" font-weight="normal" font-style="normal" fill="#222" >1</text>
<line x1="405.20" y1="224.40" x2="406.50" y2="224.40" stroke="#666" stroke-width="0.6"/>
<text x="405.3" y="226.6" font-size="7.0" text-anchor="end" font-weight="normal" font-style="normal" fill="#222" >0.5</text>
<line x1="405.20" y1="240.20" x2="406.50" y2="240.20" stroke="#666" stroke-width="0.6"/>
<text x="405.3" y="242.4" font-size="7.0" text-anchor="end" font-weight="normal" font-style="normal" fill="#222" >0</text>
<line x1="417.50" y1="239.00" x2="417.50" y2="240.40" stroke="#666" stroke-width="0.6"/>
<line x1="429.00" y1="239.00" x2="429.00" y2="240.40" stroke="#666" stroke-width="0.6"/>
<text x="418.0" y="252.1" font-size="7.9" text-anchor="start" font-weight="normal" font-style="italic" fill="#1a1a1a" textLength="17.00" lengthAdjust="spacingAndGlyphs">Hes1</text>
<line x1="453.60" y1="159.10" x2="453.60" y2="239.00" stroke="#666" stroke-width="0.75"/>
<line x1="453.60" y1="239.00" x2="487.50" y2="239.00" stroke="#666" stroke-width="0.75"/>
<line x1="452.30" y1="161.20" x2="453.60" y2="161.20" stroke="#666" stroke-width="0.6"/>
<text x="452.40000000000003" y="163.4" font-size="7.0" text-anchor="end" font-weight="normal" font-style="normal" fill="#222" >30</text>
<line x1="452.30" y1="187.60" x2="453.60" y2="187.60" stroke="#666" stroke-width="0.6"/>
<text x="452.40000000000003" y="189.79999999999998" font-size="7.0" text-anchor="end" font-weight="normal" font-style="normal" fill="#222" >20</text>
<line x1="452.30" y1="214.00" x2="453.60" y2="214.00" stroke="#666" stroke-width="0.6"/>
<text x="452.40000000000003" y="216.2" font-size="7.0" text-anchor="end" font-weight="normal" font-style="normal" fill="#222" >10</text>
<line x1="452.30" y1="240.20" x2="453.60" y2="240.20" stroke="#666" stroke-width="0.6"/>
<text x="452.40000000000003" y="242.4" font-size="7.0" text-anchor="end" font-weight="normal" font-style="normal" fill="#222" >0</text>
<line x1="465.00" y1="239.00" x2="465.00" y2="240.40" stroke="#666" stroke-width="0.6"/>
<line x1="476.30" y1="239.00" x2="476.30" y2="240.40" stroke="#666" stroke-width="0.6"/>
<text x="461.2" y="252.1" font-size="7.9" text-anchor="start" font-weight="normal" font-style="italic" fill="#1a1a1a" textLength="17.50" lengthAdjust="spacingAndGlyphs">Ptcra</text>
<polygon points="281.90,183.47 278.80,188.93 285.00,188.93" fill="none" stroke="#555" stroke-width="0.8" stroke-linejoin="miter"/>
<polygon points="281.70,195.87 278.60,201.33 284.80,201.33" fill="none" stroke="#555" stroke-width="0.8" stroke-linejoin="miter"/>
<polygon points="282.30,196.87 279.20,202.33 285.40,202.33" fill="none" stroke="#555" stroke-width="0.8" stroke-linejoin="miter"/>
<polygon points="327.50,192.57 324.40,198.03 330.60,198.03" fill="none" stroke="#555" stroke-width="0.8" stroke-linejoin="miter"/>
<polygon points="327.50,204.07 324.40,209.53 330.60,209.53" fill="none" stroke="#555" stroke-width="0.8" stroke-linejoin="miter"/>
<polygon points="327.50,207.07 324.40,212.53 330.60,212.53" fill="none" stroke="#555" stroke-width="0.8" stroke-linejoin="miter"/>
<polygon points="370.70,172.87 367.60,178.33 373.80,178.33" fill="none" stroke="#555" stroke-width="0.8" stroke-linejoin="miter"/>
<polygon points="368.50,198.77 365.40,204.23 371.60,204.23" fill="none" stroke="#555" stroke-width="0.8" stroke-linejoin="miter"/>
<polygon points="372.50,198.77 369.40,204.23 375.60,204.23" fill="none" stroke="#555" stroke-width="0.8" stroke-linejoin="miter"/>
<polygon points="417.10,176.37 414.00,181.83 420.20,181.83" fill="none" stroke="#555" stroke-width="0.8" stroke-linejoin="miter"/>
<polygon points="417.10,203.47 414.00,208.93 420.20,208.93" fill="none" stroke="#555" stroke-width="0.8" stroke-linejoin="miter"/>
<polygon points="417.10,208.27 414.00,213.73 420.20,213.73" fill="none" stroke="#555" stroke-width="0.8" stroke-linejoin="miter"/>
<polygon points="465.20,195.97 462.10,201.43 468.30,201.43" fill="none" stroke="#555" stroke-width="0.8" stroke-linejoin="miter"/>
<polygon points="465.20,210.67 462.10,216.13 468.30,216.13" fill="none" stroke="#555" stroke-width="0.8" stroke-linejoin="miter"/>
<polygon points="465.20,217.77 462.10,223.23 468.30,223.23" fill="none" stroke="#555" stroke-width="0.8" stroke-linejoin="miter"/>
<polygon points="291.60,221.61 288.20,227.59 295.00,227.59" fill="#000" stroke="none" stroke-width="0.8" />
<polygon points="293.00,221.91 289.60,227.89 296.40,227.89" fill="#000" stroke="none" stroke-width="0.8" />
<polygon points="292.80,227.21 289.40,233.19 296.20,233.19" fill="#000" stroke="none" stroke-width="0.8" />
<polygon points="338.60,174.01 335.20,179.99 342.00,179.99" fill="#000" stroke="none" stroke-width="0.8" />
<polygon points="338.60,178.71 335.20,184.69 342.00,184.69" fill="#000" stroke="none" stroke-width="0.8" />
<polygon points="338.60,183.71 335.20,189.69 342.00,189.69" fill="#000" stroke="none" stroke-width="0.8" />
<polygon points="381.00,215.01 377.60,220.99 384.40,220.99" fill="#000" stroke="none" stroke-width="0.8" />
<polygon points="383.00,214.31 379.60,220.29 386.40,220.29" fill="#000" stroke="none" stroke-width="0.8" />
<polygon points="382.00,235.61 378.60,241.59 385.40,241.59" fill="#000" stroke="none" stroke-width="0.8" />
<polygon points="428.90,211.01 425.50,216.99 432.30,216.99" fill="#000" stroke="none" stroke-width="0.8" />
<polygon points="428.90,215.01 425.50,220.99 432.30,220.99" fill="#000" stroke="none" stroke-width="0.8" />
<polygon points="428.90,219.01 425.50,224.99 432.30,224.99" fill="#000" stroke="none" stroke-width="0.8" />
<polygon points="473.90,235.41 470.50,241.39 477.30,241.39" fill="#000" stroke="none" stroke-width="0.8" />
<polygon points="476.40,235.41 473.00,241.39 479.80,241.39" fill="#000" stroke="none" stroke-width="0.8" />
<polygon points="479.00,235.41 475.60,241.39 482.40,241.39" fill="#000" stroke="none" stroke-width="0.8" />
</svg></body></html>
